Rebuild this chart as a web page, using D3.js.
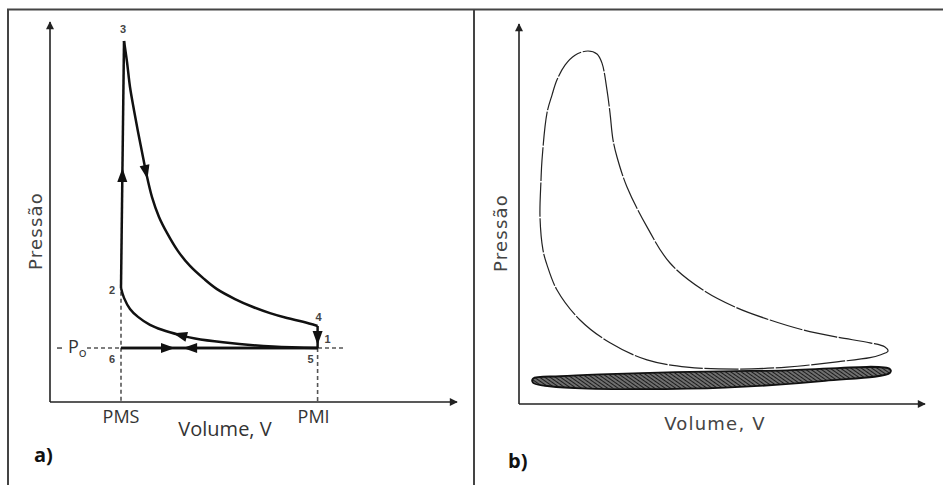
<!DOCTYPE html>
<html>
<head>
<meta charset="utf-8">
<script src="https://cdn.jsdelivr.net/npm/d3@7"></script>
<style>
  body { margin: 0; background: #fff; }
  svg { display: block; }
</style>
</head>
<body>
<svg id="chart" width="943" height="485"></svg>
<script>
// panel a) ideal Otto cycle, [volume, pressure] in arbitrary units (0..100)
const pms = 17.75, pmi = 66.9, p0 = 14.2;
const combustion = [[17.75, 30], [18.5, 95]];          // 2 -> 3
const expansion = [                                     // 3 -> 4
  [18.5, 95], [19.25, 89.5], [20, 82.9], [21, 76.8], [22, 71.1], [23, 65.8],
  [24, 60.5], [25.5, 53.9], [27.25, 48.7], [29.25, 44.5], [32, 39.7],
  [35, 35.8], [38.5, 32.4], [41.75, 29.7], [46.25, 27.1], [50.75, 25],
  [55, 23.4], [59.25, 22.1], [63.25, 21.1], [66.9, 20]
];
const blowdown = [[66.9, 20], [66.9, 14.2]];            // 4 -> 1 -> 5
const compression = [                                   // 1 -> 2
  [66.9, 14.2], [55.75, 14.6], [43.25, 15.7], [36.25, 16.7], [32.5, 17.6],
  [28, 19], [25, 20.3], [22, 22.4], [20, 24.5], [18.5, 27.4], [17.75, 30]
];
const intake = [[17.75, 14.2], [66.9, 14.2]];           // 6 -> 5
const exhaust = [[66.9, 14.2], [17.75, 14.2]];          // 5 -> 6
const pointLabels = [
  { t: "3", v: 18.5, p: 95, dx: -1, dy: -11 },
  { t: "2", v: 17.75, p: 30, dx: -9, dy: 3 },
  { t: "4", v: 66.9, p: 20, dx: 1, dy: -8 },
  { t: "1", v: 66.9, p: 14.2, dx: 10, dy: -8 },
  { t: "5", v: 66.9, p: 14.2, dx: -7, dy: 12 },
  { t: "6", v: 17.75, p: 14.2, dx: -9, dy: 12 }
];

// panel b) real indicator diagram
const highLoop = [
  [92.25, 13.9], [90.25, 12.9], [87.75, 12.2], [79.5, 11.1], [67, 9.7],
  [54.5, 9.2], [42, 9.7], [32, 11.6], [22.75, 16.1], [15.25, 22.1],
  [9.5, 30], [7, 36.6], [6, 40.5], [5.25, 49.2], [5.5, 58.9], [5.75, 64.2],
  [7, 76.6], [8.25, 81.3], [9.5, 85.3], [11.5, 89.2], [14, 91.8],
  [17.25, 92.9], [19.5, 92.1], [20.75, 89.7], [22, 82.6], [22.75, 76.6],
  [23.5, 69.5], [24.5, 65], [27, 57.1], [32, 46.6], [37.75, 37.1],
  [46, 30], [54.5, 25.3], [62.75, 22.1], [71, 19.5], [79.5, 17.6],
  [87.75, 16.1], [91.5, 15]
];
const pumpLoop = [
  [3.5, 6.7], [10.25, 7.3], [20.25, 7.8], [39, 8.4], [65.25, 8.8], [92.75, 9.2],
  [92.75, 8.2], [76.5, 6.1], [51.5, 4.3], [30.75, 3.9], [14, 4.2], [6.5, 4.8], [3.5, 5.6]
];

const svg = d3.select("#chart");

const defs = svg.append("defs");
defs.append("marker")
  .attr("id", "axisHeadB")
  .attr("viewBox", "0 -5 10 10")
  .attr("refX", 9).attr("refY", 0)
  .attr("markerWidth", 11).attr("markerHeight", 8)
  .attr("markerUnits", "userSpaceOnUse")
  .attr("orient", "auto")
  .append("path").attr("d", "M0,-5L10,0L0,5Z").attr("fill", "#222");

const hatch = defs.append("pattern")
  .attr("id", "hatch")
  .attr("patternUnits", "userSpaceOnUse")
  .attr("width", 3).attr("height", 3)
  .attr("patternTransform", "rotate(-55)");
hatch.append("rect").attr("width", 3).attr("height", 3).attr("fill", "#6f6f6f");
hatch.append("line").attr("x1", 0).attr("y1", 0).attr("x2", 0).attr("y2", 3)
  .attr("stroke", "#111").attr("stroke-width", 1.8);

// frame
svg.append("path")
  .attr("d", "M8,485V9.5H943M474,9.5V485")
  .attr("fill", "none").attr("stroke", "#444").attr("stroke-width", 2);

// ---------- panel a ----------
const xA = d3.scaleLinear().domain([0, 100]).range([50, 450]);
const yA = d3.scaleLinear().domain([0, 100]).range([402, 22]);
const gA = svg.append("g");
const lineA = d3.line().x(d => xA(d[0])).y(d => yA(d[1]));

gA.append("line").attr("x1", xA(0)).attr("y1", yA(0)).attr("x2", 457).attr("y2", yA(0))
  .attr("stroke", "#222").attr("stroke-width", 1.6).attr("marker-end", "url(#axisHeadB)");
gA.append("line").attr("x1", xA(0)).attr("y1", yA(0)).attr("x2", xA(0)).attr("y2", yA(100))
  .attr("stroke", "#222").attr("stroke-width", 1.6).attr("marker-end", "url(#axisHeadB)");

const dash = { stroke: "#555", w: 1.6, da: "4,3" };
[
  [[pms, 29], [pms, 0]],
  [[pmi, p0], [pmi, 0]],
  [[9.25, p0], [73.75, p0]]
].forEach(seg => {
  gA.append("path").attr("d", lineA(seg)).attr("fill", "none")
    .attr("stroke", dash.stroke).attr("stroke-width", dash.w).attr("stroke-dasharray", dash.da);
});
gA.append("line").attr("x1", 57).attr("x2", 62).attr("y1", yA(p0)).attr("y2", yA(p0))
  .attr("stroke", dash.stroke).attr("stroke-width", dash.w);

const curveA = d3.line().x(d => xA(d[0])).y(d => yA(d[1])).curve(d3.curveCatmullRom.alpha(0.5));
function drawPath(data, curved) {
  return gA.append("path")
    .attr("d", curved ? curveA(data) : lineA(data))
    .attr("fill", "none").attr("stroke", "#111").attr("stroke-width", 2.5)
    .attr("stroke-linejoin", "miter");
}
const pComb = drawPath(combustion, false);
const pExp = drawPath(expansion, true);
const pBlow = drawPath(blowdown, false);
const pComp = drawPath(compression, true);
const pIn = drawPath(intake, false);
const pEx = drawPath(exhaust, false);

function arrowOn(path, v, p) {
  const node = path.node();
  const L = node.getTotalLength();
  const tx = xA(v), ty = yA(p);
  let best = 0, bd = Infinity;
  for (let s = 0; s <= L; s += 0.5) {
    const q = node.getPointAtLength(s);
    const d = (q.x - tx) ** 2 + (q.y - ty) ** 2;
    if (d < bd) { bd = d; best = s; }
  }
  const a = node.getPointAtLength(Math.max(0, best - 2));
  const b = node.getPointAtLength(Math.min(L, best + 2));
  const c = node.getPointAtLength(best);
  const ang = Math.atan2(b.y - a.y, b.x - a.x) * 180 / Math.PI;
  gA.append("path").attr("d", "M7,0L-7,-5L-7,5Z").attr("fill", "#111")
    .attr("transform", `translate(${c.x},${c.y}) rotate(${ang})`);
}
arrowOn(pComb, 18.25, 59.7);
arrowOn(pExp, 24, 60.5);
arrowOn(pBlow, 66.9, 16.8);
arrowOn(pComp, 32.5, 17.6);
arrowOn(pIn, 29.5, p0);
arrowOn(pEx, 35, p0);

gA.selectAll("text.pt").data(pointLabels).join("text")
  .attr("class", "pt")
  .attr("x", d => xA(d.v) + d.dx).attr("y", d => yA(d.p) + d.dy)
  .attr("text-anchor", "middle").attr("dominant-baseline", "middle")
  .attr("font-family", "Liberation Sans, Arial, sans-serif").attr("font-weight", "bold")
  .attr("font-size", 11).attr("fill", "#444").text(d => d.t);

const po = gA.append("text").attr("x", 68).attr("y", yA(p0) + 5)
  .attr("font-family", "Open Sans, sans-serif").attr("font-size", 18).attr("fill", "#333");
po.append("tspan").text("P");
po.append("tspan").attr("dy", 4).attr("font-size", 13).text("o");

const labelFont = "Open Sans, sans-serif";
gA.append("text").attr("x", xA(pms)).attr("y", 423).attr("text-anchor", "middle")
  .attr("font-family", labelFont).attr("font-size", 18).attr("fill", "#333").text("PMS");
gA.append("text").attr("x", xA(pmi) - 4).attr("y", 423).attr("text-anchor", "middle")
  .attr("font-family", labelFont).attr("font-size", 18).attr("fill", "#333").text("PMI");
gA.append("text").attr("x", 225).attr("y", 436).attr("text-anchor", "middle")
  .attr("font-family", labelFont).attr("font-size", 20).attr("fill", "#333").text("Volume, V");
gA.append("text").attr("transform", "translate(42,231) rotate(-90)").attr("text-anchor", "middle")
  .attr("font-family", "DejaVu Sans, sans-serif").attr("font-size", 18).attr("letter-spacing", 1.2)
  .attr("fill", "#444").text("Pressão");
gA.append("text").attr("x", 34).attr("y", 462)
  .attr("font-family", labelFont).attr("font-weight", "bold").attr("font-size", 20)
  .attr("fill", "#111").text("a)");

// ---------- panel b ----------
const xB = d3.scaleLinear().domain([0, 100]).range([519, 919]);
const yB = d3.scaleLinear().domain([0, 100]).range([404, 24]);
const gB = svg.append("g");

gB.append("line").attr("x1", xB(0)).attr("y1", yB(0)).attr("x2", 925).attr("y2", yB(0))
  .attr("stroke", "#222").attr("stroke-width", 1.6).attr("marker-end", "url(#axisHeadB)");
gB.append("line").attr("x1", xB(0)).attr("y1", yB(0)).attr("x2", xB(0)).attr("y2", yB(100))
  .attr("stroke", "#222").attr("stroke-width", 1.6).attr("marker-end", "url(#axisHeadB)");

const loopLine = d3.line().x(d => xB(d[0])).y(d => yB(d[1])).curve(d3.curveCatmullRomClosed.alpha(0.5));
gB.append("path").attr("d", loopLine(pumpLoop))
  .attr("fill", "url(#hatch)").attr("stroke", "#111").attr("stroke-width", 1.8);
gB.append("path").attr("d", loopLine(highLoop))
  .attr("fill", "none").attr("stroke", "#222").attr("stroke-width", 1.2)
  .attr("stroke-dasharray", "34,1.6");

gB.append("text").attr("x", 715).attr("y", 430).attr("text-anchor", "middle")
  .attr("font-family", "DejaVu Sans, sans-serif").attr("font-size", 18).attr("letter-spacing", 1.2)
  .attr("fill", "#444").text("Volume, V");
gB.append("text").attr("transform", "translate(507,233) rotate(-90)").attr("text-anchor", "middle")
  .attr("font-family", "DejaVu Sans, sans-serif").attr("font-size", 18).attr("letter-spacing", 1.2)
  .attr("fill", "#444").text("Pressão");
gB.append("text").attr("x", 508).attr("y", 468)
  .attr("font-family", labelFont).attr("font-weight", "bold").attr("font-size", 20)
  .attr("fill", "#111").text("b)");
</script>
</body>
</html>
